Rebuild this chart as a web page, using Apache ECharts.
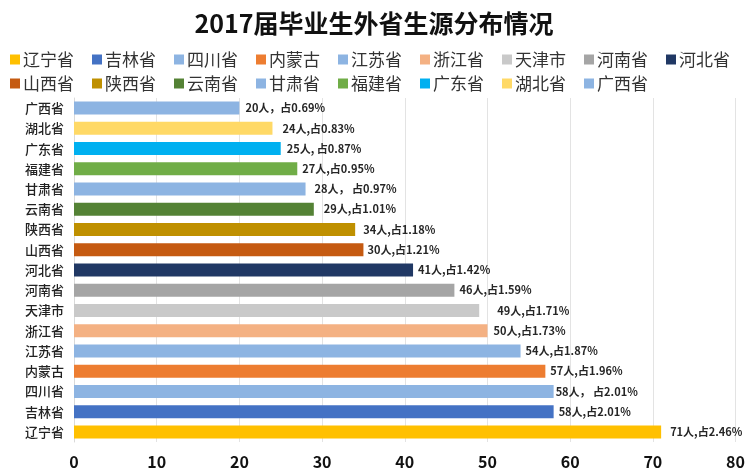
<!DOCTYPE html>
<html>
<head>
<meta charset="utf-8">
<script src="https://cdn.jsdelivr.net/npm/echarts@6/dist/echarts.min.js"></script>
<style>
  html, body { margin: 0; padding: 0; background: #fff; }
  #chart { width: 748px; height: 470px; }
</style>
</head>
<body>
<div id="chart"></div>
<script>
// 省份（自下而上）
const provinces = ['辽宁省', '吉林省', '四川省', '内蒙古', '江苏省', '浙江省', '天津市', '河南省', '河北省',
  '山西省', '陕西省', '云南省', '甘肃省', '福建省', '广东省', '湖北省', '广西省'];
// 柱长
const values = [71, 58, 58, 57, 54, 50, 49, 46, 41, 35, 34, 29, 28, 27, 25, 24, 20];
// 数据标签
const labels = ['71人,占2.46%', '58人,占2.01%', '58人， 占2.01%', '57人,占1.96%', '54人,占1.87%',
  '50人,占1.73%', '49人,占1.71%', '46人,占1.59%', '41人,占1.42%', '30人,占1.21%', '34人,占1.18%',
  '29人,占1.01%', '28人， 占0.97%', '27人,占0.95%', '25人, 占0.87%', '24人,占0.83%', '20人，占0.69%'];
const colors = ['#FFC000', '#4472C4', '#8DB4E2', '#ED7D31', '#8DB4E2', '#F4B183', '#C9C9C9', '#A5A5A5', '#203864',
  '#C55A11', '#BF9000', '#548235', '#8DB4E2', '#70AD47', '#00B0F0', '#FFD966', '#8DB4E2'];
const labelGap = [9, 5, 2, 5, 5, 6, 18, 5, 5, 4, 8, 10, 9, 5, 6, 10, 6];
const xTicks = { min: 0, max: 80, interval: 10 };

const font = '"Noto Sans CJK SC", sans-serif';

// 每个省一个系列，堆叠在同一根柱上
const series = provinces.map((p, i) => ({
  name: p,
  type: 'bar',
  stack: 'total',
  barWidth: 13,
  data: provinces.map((q, j) => (j === i ? values[i] : '-')),
  itemStyle: { color: colors[i] },
  label: {
    show: true,
    position: 'right',
    distance: labelGap[i],
    formatter: labels[i],
    fontFamily: font,
    fontSize: 11,
    fontWeight: 'bold',
    color: '#262626'
  }
}));

const legendText = { fontFamily: font, fontSize: 17, color: '#333', padding: [0, 0, 0, -2] };

const options = {
  animation: false,
  title: {
    text: '2017届毕业生外省生源分布情况',
    left: 'center',
    top: 6,
    textStyle: { fontFamily: font, fontSize: 25, fontWeight: 'bold', color: '#111' }
  },
  legend: [
    {
      data: provinces.slice(0, 9),
      left: 5,
      top: 46,
      itemWidth: 10,
      itemHeight: 10,
      itemGap: 18,
      icon: 'rect',
      textStyle: legendText
    },
    {
      data: provinces.slice(9),
      left: 5,
      top: 70,
      itemWidth: 10,
      itemHeight: 10,
      itemGap: 18,
      icon: 'rect',
      textStyle: legendText
    }
  ],
  grid: { left: 74, right: 8, top: 98, bottom: 28 },
  xAxis: {
    type: 'value',
    min: xTicks.min,
    max: xTicks.max,
    interval: xTicks.interval,
    axisLine: { show: false },
    axisTick: { show: false },
    axisLabel: { fontFamily: font, fontSize: 16, fontWeight: 'bold', color: '#111', margin: 12 },
    splitLine: { lineStyle: { color: '#e3e3e3' } }
  },
  yAxis: {
    type: 'category',
    data: provinces,
    axisLine: { show: true, lineStyle: { color: '#d9d9d9' } },
    axisTick: { show: false },
    axisLabel: { fontFamily: font, fontSize: 13, fontWeight: 500, color: '#222', margin: 10 }
  },
  series: series
};

const chart = echarts.init(document.getElementById('chart'));
chart.setOption(options);
</script>
</body>
</html>
